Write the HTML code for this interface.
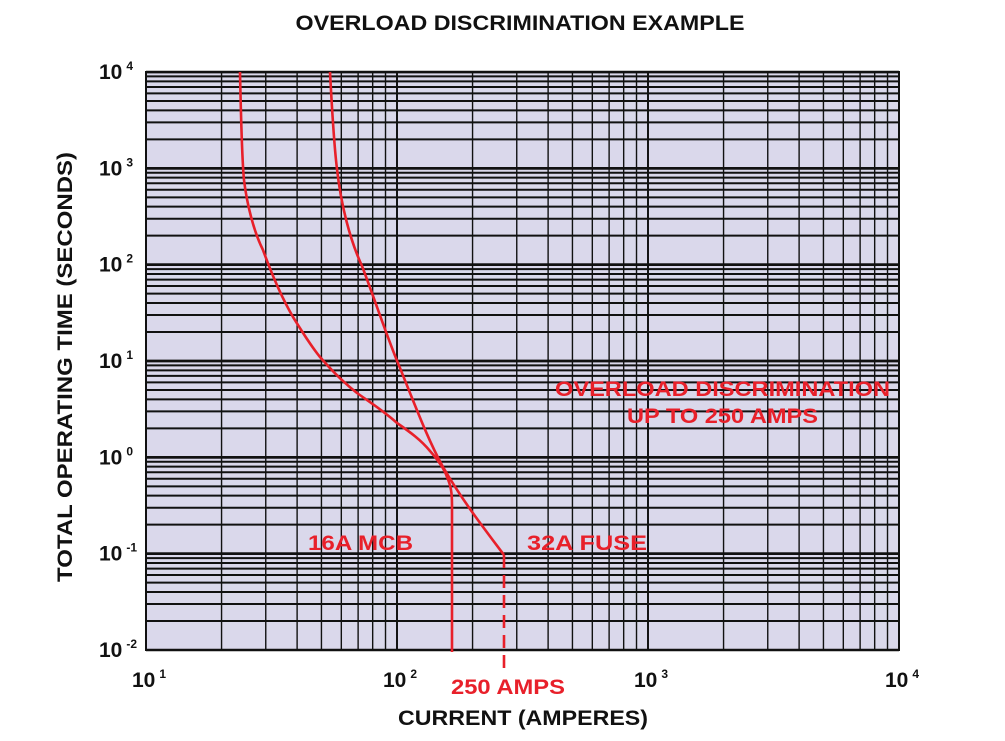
<!DOCTYPE html>
<html><head><meta charset="utf-8">
<style>
html,body{margin:0;padding:0;background:#fff;}
svg{display:block;}
text{font-family:"Liberation Sans",Arial,sans-serif;font-weight:bold;}
</style></head>
<body>
<svg id="s" width="1005" height="741" viewBox="0 0 1005 741" xmlns="http://www.w3.org/2000/svg">
<rect x="0" y="0" width="1005" height="741" fill="#fff"/>
<rect x="146" y="72" width="753" height="578" fill="#dad8eb"/>
<g id="grid" stroke="#111" fill="none"></g>
<rect x="146" y="72" width="753" height="578" fill="none" stroke="#111" stroke-width="2"/>
<g fill="none" stroke="#e8202a" stroke-width="2.6" stroke-linejoin="round">
<path d="M240,72 C241,120 242,160 244,180 C247,205 254,232 263,250 C272,275 282,298 293,317 C303,333 311,346 320,357 C332,371 343,382 357,393 C371,403 385,412 397,423 C410,432 421,440 430,451 C438,460 444,468 447,477 C451,486 452,493 452,505 L452,652"/>
<path d="M330,72 C332,110 334,145 337,169 C341,205 350,240 362,266 C375,300 388,340 400,368 C415,405 428,440 443,467 C462,500 483,527 504,555"/>
<path d="M504,555 L504,668" stroke-dasharray="13,7"/>
</g>
<text x="520" y="30" font-size="21" text-anchor="middle" fill="#111" textLength="449" lengthAdjust="spacingAndGlyphs">OVERLOAD DISCRIMINATION EXAMPLE</text>
<text x="523" y="725" font-size="21" text-anchor="middle" fill="#111" textLength="250" lengthAdjust="spacingAndGlyphs">CURRENT (AMPERES)</text>
<text transform="translate(72,367) rotate(-90)" font-size="21" text-anchor="middle" fill="#111" textLength="430" lengthAdjust="spacingAndGlyphs">TOTAL OPERATING TIME (SECONDS)</text>
<g font-size="21" fill="#111" id="yl"></g>
<g font-size="21" fill="#111" id="xl"></g>
<g fill="#e8202a" font-size="21">
<text x="555" y="396" textLength="335" lengthAdjust="spacingAndGlyphs">OVERLOAD DISCRIMINATION</text>
<text x="627" y="423" textLength="191" lengthAdjust="spacingAndGlyphs">UP TO 250 AMPS</text>
<text x="308" y="550" textLength="105" lengthAdjust="spacingAndGlyphs">16A MCB</text>
<text x="527" y="550" textLength="120" lengthAdjust="spacingAndGlyphs">32A FUSE</text>
<text x="451" y="694" textLength="114" lengthAdjust="spacingAndGlyphs">250 AMPS</text>
</g>
</svg>
<script>
var ns="http://www.w3.org/2000/svg",g=document.getElementById('grid');
function L(x1,y1,x2,y2,w){var l=document.createElementNS(ns,'line');l.setAttribute('x1',x1);l.setAttribute('y1',y1);l.setAttribute('x2',x2);l.setAttribute('y2',y2);l.setAttribute('stroke-width',w);g.appendChild(l);}
var X0=146,XD=251,Y0=650,YD=96.33;
for(var d=0;d<3;d++)for(var k=1;k<=10;k++){var x=X0+XD*(d+Math.log10(k));L(x,72,x,650,k==1||k==10?1.8:1.4);}
for(var d=0;d<6;d++)for(var k=1;k<=10;k++){var y=Y0-YD*(d+Math.log10(k));L(146,y,899,y,k==1||k==10?2.6:2);}
function T(gid,x,y,e){var t=document.createElementNS(ns,'text');t.setAttribute('x',x);t.setAttribute('y',y);t.innerHTML='10<tspan font-size="12" dy="-9" dx="4">'+e+'</tspan>';document.getElementById(gid).appendChild(t);}
var ye=['-2','-1','0','1','2','3','4'];
for(var i=0;i<7;i++)T('yl',99,Y0-YD*i+7,ye[i]);
for(var i=0;i<4;i++)T('xl',X0+XD*i-14,687,String(i+1));
</script>
</body></html>
